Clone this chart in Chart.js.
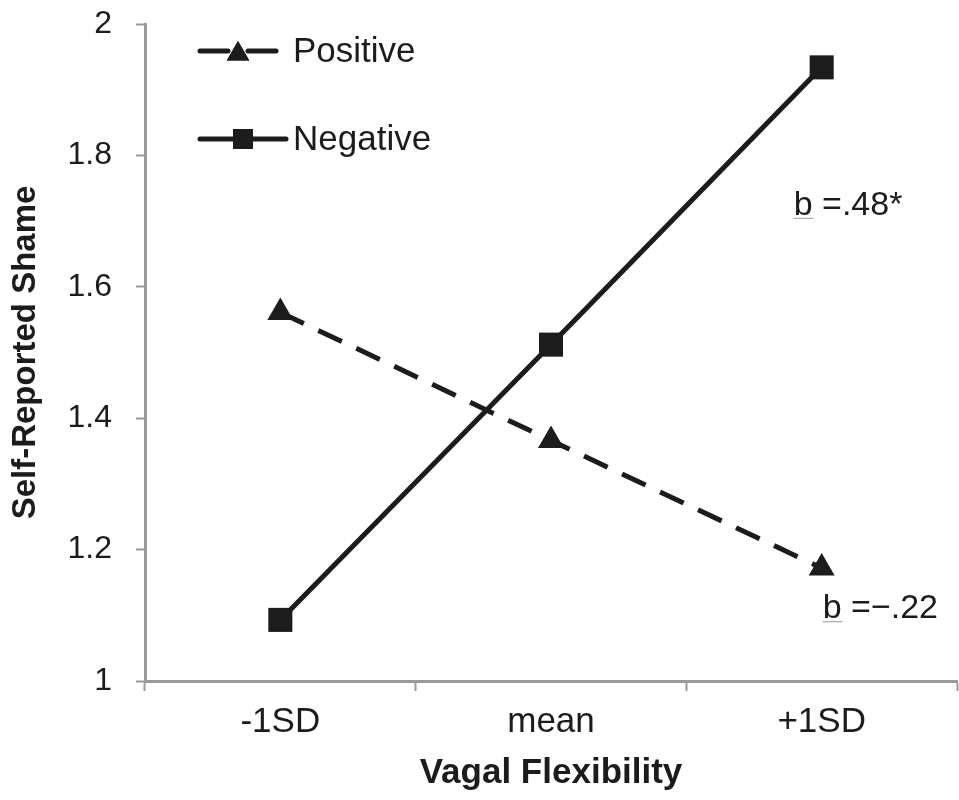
<!DOCTYPE html>
<html>
<head>
<meta charset="utf-8">
<script src="https://cdn.jsdelivr.net/npm/chart.js@4.4.1/dist/chart.umd.min.js"></script>
<style>
  html, body { margin: 0; padding: 0; background: #fff; }
  #wrap { width: 959px; height: 800px; }
</style>
</head>
<body>
<div id="wrap"><canvas id="chart" width="959" height="800"></canvas></div>
<script>
// data
const categories = ["-1SD", "mean", "+1SD"];
const positiveValues = [1.561, 1.366, 1.172];
const negativeValues = [1.093, 1.512, 1.934];
const yTicks = [1, 1.2, 1.4, 1.6, 1.8, 2];
const slopeLabels = [
  { text: "=.48*", x: "+1SD", y: 1.724 },
  { text: "=\u2212.22", x: "+1SD", y: 1.11 }
];

const FONT = "'Liberation Sans', Arial, sans-serif";
const INK = "#1c1c1c";
const AXIS = "#9a9a9a";

// legend drawn inside the plot, top-left
const insideLegend = {
  id: "insideLegend",
  afterDraw(chart) {
    const c = chart.ctx;
    const rows = [
      { ds: chart.data.datasets[0], y: 51, x1: 200, x2: 276, r: 13 },
      { ds: chart.data.datasets[1], y: 139, x1: 200, x2: 286, r: 14 }
    ];
    c.save();
    rows.forEach(r => {
      const mid = (r.x1 + r.x2) / 2;
      c.strokeStyle = r.ds.borderColor;
      c.lineWidth = r.ds.borderWidth;
      c.lineCap = "round";
      c.beginPath();
      if (r.ds.borderDash && r.ds.borderDash.length) {
        c.moveTo(r.x1, r.y); c.lineTo(mid - 10, r.y);
        c.moveTo(mid + 10, r.y); c.lineTo(r.x2, r.y);
      } else {
        c.moveTo(r.x1, r.y); c.lineTo(r.x2, r.y);
      }
      c.stroke();
      c.fillStyle = r.ds.pointBackgroundColor;
      Chart.helpers.drawPoint(c, {
        pointStyle: r.ds.pointStyle,
        radius: r.r,
        borderWidth: 0,
        rotation: 0
      }, mid, r.y + (r.ds.pointStyle === "triangle" ? 3 : 0));
      c.fill();
      c.fillStyle = INK;
      c.font = "35px " + FONT;
      c.textBaseline = "middle";
      c.textAlign = "left";
      c.fillText(r.ds.label, 293, r.y + 1);
    });
    c.restore();
  }
};

// slope annotations with underlined b
const slopeNotes = {
  id: "slopeNotes",
  afterDraw(chart) {
    const c = chart.ctx;
    const xs = chart.scales.x, ys = chart.scales.y;
    c.save();
    c.font = "34px " + FONT;
    c.fillStyle = INK;
    c.textBaseline = "middle";
    c.textAlign = "left";
    slopeLabels.forEach((s, i) => {
      const px = xs.getPixelForValue(categories.indexOf(s.x)) + (i === 0 ? -28 : 1);
      const py = ys.getPixelForValue(s.y);
      c.fillText("b", px, py);
      const bw = c.measureText("b ").width;
      c.strokeStyle = "#999";
      c.lineWidth = 1;
      c.beginPath();
      c.moveTo(px, py + 13); c.lineTo(px + c.measureText("b").width + 1, py + 13);
      c.stroke();
      c.fillText(s.text, px + bw, py);
    });
    c.restore();
  }
};

new Chart(document.getElementById("chart"), {
  type: "line",
  data: {
    labels: categories,
    datasets: [
      {
        label: "Positive",
        data: positiveValues,
        borderColor: INK,
        backgroundColor: INK,
        pointBackgroundColor: INK,
        pointBorderWidth: 0,
        borderWidth: 5,
        borderDash: [26, 16],
        pointStyle: "triangle",
        pointRadius: 15,
        tension: 0
      },
      {
        label: "Negative",
        data: negativeValues,
        borderColor: INK,
        backgroundColor: INK,
        pointBackgroundColor: INK,
        pointBorderWidth: 0,
        borderWidth: 5,
        pointStyle: "rect",
        pointRadius: 17,
        tension: 0
      }
    ]
  },
  options: {
    responsive: false,
    animation: false,
    layout: { autoPadding: false, padding: { top: 24, right: 2, left: 0, bottom: 0 } },
    plugins: {
      legend: { display: false },
      tooltip: { enabled: false }
    },
    scales: {
      x: {
        type: "category",
        offset: true,
        grid: {
          offset: true,
          drawOnChartArea: false,
          drawTicks: true,
          tickLength: 10,
          tickWidth: 2,
          tickColor: AXIS
        },
        border: { color: AXIS, width: 3 },
        ticks: { color: INK, font: { family: FONT, size: 35 }, padding: 10 },
        title: {
          display: true,
          text: "Vagal Flexibility",
          color: INK,
          font: { family: FONT, size: 35, weight: "bold" },
          padding: { top: 0, bottom: 6 }
        },
        afterFit(scale) {
          scale.height = 119;
          scale.paddingLeft = 0;
          scale.paddingRight = 0;
        }
      },
      y: {
        min: 1,
        max: 2,
        afterBuildTicks(scale) { scale.ticks = yTicks.map(v => ({ value: v })); },
        grid: {
          drawOnChartArea: false,
          drawTicks: true,
          tickLength: 9,
          tickWidth: 2,
          tickColor: AXIS
        },
        border: { color: AXIS, width: 3 },
        ticks: {
          color: INK,
          font: { family: FONT, size: 32 },
          padding: 24,
          callback: v => String(v)
        },
        title: {
          display: true,
          text: "Self-Reported Shame",
          color: INK,
          font: { family: FONT, size: 33, weight: "bold" },
          padding: { top: 6, bottom: 0 }
        },
        afterFit(scale) {
          scale.width = 145;
          scale.paddingTop = 0;
          scale.paddingBottom = 0;
        }
      }
    }
  },
  plugins: [insideLegend, slopeNotes]
});
</script>
</body>
</html>
